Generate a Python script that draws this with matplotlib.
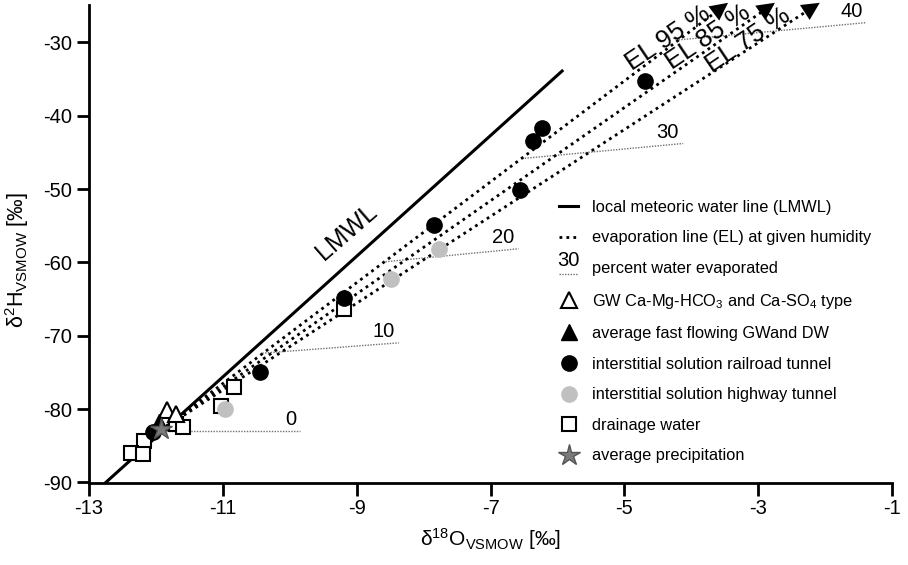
import matplotlib
matplotlib.use("Agg")
import matplotlib.pyplot as plt
from matplotlib.lines import Line2D
from matplotlib.text import Text
from matplotlib.legend_handler import HandlerBase

plt.rcParams['font.family'] = ['Liberation Sans', 'DejaVu Sans']
plt.rcParams['axes.unicode_minus'] = False
plt.rcParams['mathtext.default'] = 'regular'

# local meteoric water line (two ends)
lmwl_x = [-12.75, -5.93]
lmwl_y = [-90.0, -33.9]

# evaporation lines: common start, arrow tips
el_start = (-11.93, -82.9)
el_end_x = [-3.45, -2.75, -2.08]
el_end_y = -24.6
el_names = ["EL 95 %", "EL 85 %", "EL 75 %"]
el_label_x = [-4.34, -3.75, -3.15]
el_label_y = [-29.4, -29.25, -29.66]

# percent water evaporated lines
pct_names = ["0", "10", "20", "30", "40"]
pct_x0 = [-11.90, -10.41, -8.57, -6.53, -4.19]
pct_y0 = [-82.96, -72.37, -59.90, -45.83, -29.66]
pct_x1 = [-9.84, -8.37, -6.58, -4.12, -1.38]
pct_y1 = [-82.96, -70.96, -58.13, -43.78, -27.30]

# samples
rail_x = [-4.69, -6.23, -6.36, -6.56, -7.85, -9.19, -10.45, -12.05]
rail_y = [-35.2, -41.7, -43.4, -50.1, -54.9, -64.9, -74.9, -83.1]
highway_x = [-7.77, -8.49, -10.97]
highway_y = [-58.1, -62.2, -80.0]
drain_x = [-9.19, -10.83, -11.03, -11.70, -11.60, -12.18, -12.37, -12.20]
drain_y = [-66.3, -77.0, -79.6, -82.0, -82.4, -84.4, -86.0, -86.1]
gw_x = [-11.84, -11.70]
gw_y = [-80.1, -80.6]
fast_x = [-11.95]
fast_y = [-81.8]
precip_x = [-11.93]
precip_y = [-82.65]

x_ticks = [-13, -11, -9, -7, -5, -3, -1]
y_ticks = [-90, -80, -70, -60, -50, -40, -30]

gray_line = "#707070"
star_col = "#7a7a7a"
hw_col = "#c0c0c0"


class PctHandle:
    pass


class HandlerPct(HandlerBase):
    def create_artists(self, legend, orig_handle, xdescent, ydescent,
                       width, height, fontsize, trans):
        t = Text(width / 2 - xdescent, height * 0.25 - ydescent, "30",
                 ha="center", va="bottom", fontsize=14.5, transform=trans)
        ln = Line2D([-xdescent, width - xdescent], [-ydescent - 1, -ydescent - 1],
                    color=gray_line, lw=1, linestyle=(0, (1, 1)), transform=trans)
        return [ln, t]


fig = plt.figure(figsize=(9.08, 5.65), dpi=100)
ax = fig.add_axes([89 / 908, 82.5 / 565, 803 / 908, 477.5 / 565])

# percent lines
for i in range(len(pct_names)):
    ax.plot([pct_x0[i], pct_x1[i]], [pct_y0[i], pct_y1[i]], color=gray_line,
            lw=1, linestyle=(0, (1, 1)), zorder=1)
    ax.annotate(pct_names[i], (pct_x1[i], pct_y1[i]), xytext=(-3, 1),
                textcoords="offset points", ha="right", va="bottom", fontsize=14.5)

# LMWL
ax.plot(lmwl_x, lmwl_y, color="black", lw=2.2, zorder=2)
ax.text(-9.15, -55.85, "LMWL", rotation=41, ha="center", va="center",
        rotation_mode="anchor", fontsize=18)

# evaporation lines
for i in range(3):
    ax.plot([el_start[0], el_end_x[i]], [el_start[1], el_end_y], color="black",
            lw=2, linestyle=(0, (1, 1.5)), zorder=2)
    dx = el_end_x[i] - el_start[0]
    dy = el_end_y - el_start[1]
    ax.annotate("", xy=(el_end_x[i], el_end_y),
                xytext=(el_end_x[i] - dx * 0.03, el_end_y - dy * 0.03),
                arrowprops=dict(arrowstyle="-|>", color="black", lw=0,
                                mutation_scale=32, shrinkA=0, shrinkB=0),
                annotation_clip=False)
    ax.text(el_label_x[i], el_label_y[i], el_names[i], rotation=34,
            ha="center", va="center", rotation_mode="anchor", fontsize=18.5)

# samples
mk = dict(drain=dict(marker="s", ms=10, mfc="white", mec="black", mew=1.5),
          gw=dict(marker="^", ms=11, mfc="white", mec="black", mew=1.5),
          fast=dict(marker="^", ms=11, color="black"),
          rail=dict(marker="o", ms=11, color="black"),
          hw=dict(marker="o", ms=11, color=hw_col),
          star=dict(marker="*", ms=16, color=star_col, mec="#555555", mew=1))

ax.plot(drain_x, drain_y, ls="", zorder=3, **mk["drain"])
ax.plot(gw_x, gw_y, ls="", zorder=4, **mk["gw"])
ax.plot(fast_x, fast_y, ls="", zorder=4, **mk["fast"])
ax.plot(rail_x, rail_y, ls="", zorder=5, **mk["rail"])
ax.plot(highway_x, highway_y, ls="", zorder=5, **mk["hw"])
ax.plot(precip_x, precip_y, ls="", zorder=6, **mk["star"])

ax.set_xlim(-13, -1)
ax.set_ylim(-90, -24.9)
ax.set_xticks(x_ticks)
ax.set_yticks(y_ticks)
for s in ["top", "right"]:
    ax.spines[s].set_visible(False)
for s in ["left", "bottom"]:
    ax.spines[s].set_linewidth(2)
ax.tick_params(direction="out", length=9, width=2, labelsize=14.5, pad=3)

ax.set_xlabel(r"δ$^{18}$O$_{VSMOW}$ [‰]", fontsize=15, labelpad=6)
ax.set_ylabel(r"δ$^{2}$H$_{VSMOW}$ [‰]", fontsize=15.5)
ax.yaxis.set_label_coords(-0.072, 0.465)

handles = [
    Line2D([], [], color="black", lw=2.2),
    Line2D([], [], color="black", lw=2, linestyle=(0, (1, 1.5))),
    PctHandle(),
    Line2D([], [], ls="", **mk["gw"]),
    Line2D([], [], ls="", **mk["fast"]),
    Line2D([], [], ls="", **mk["rail"]),
    Line2D([], [], ls="", **mk["hw"]),
    Line2D([], [], ls="", **mk["drain"]),
    Line2D([], [], ls="", **mk["star"]),
]
labels = [
    "local meteoric water line (LMWL)",
    "evaporation line (EL) at given humidity",
    "percent water evaporated",
    r"GW Ca-Mg-HCO$_3$ and Ca-SO$_4$ type",
    "average fast flowing GWand DW",
    "interstitial solution railroad tunnel",
    "interstitial solution highway tunnel",
    "drainage water",
    "average precipitation",
]
ax.legend(handles, labels, handler_map={PctHandle: HandlerPct()},
          loc="upper left", bbox_to_anchor=(0.585, 0.592), frameon=False,
          fontsize=11.8, handlelength=1.2, handletextpad=0.8, labelspacing=0.95,
          borderpad=0, borderaxespad=0)

fig.savefig("out.png", dpi=100)
